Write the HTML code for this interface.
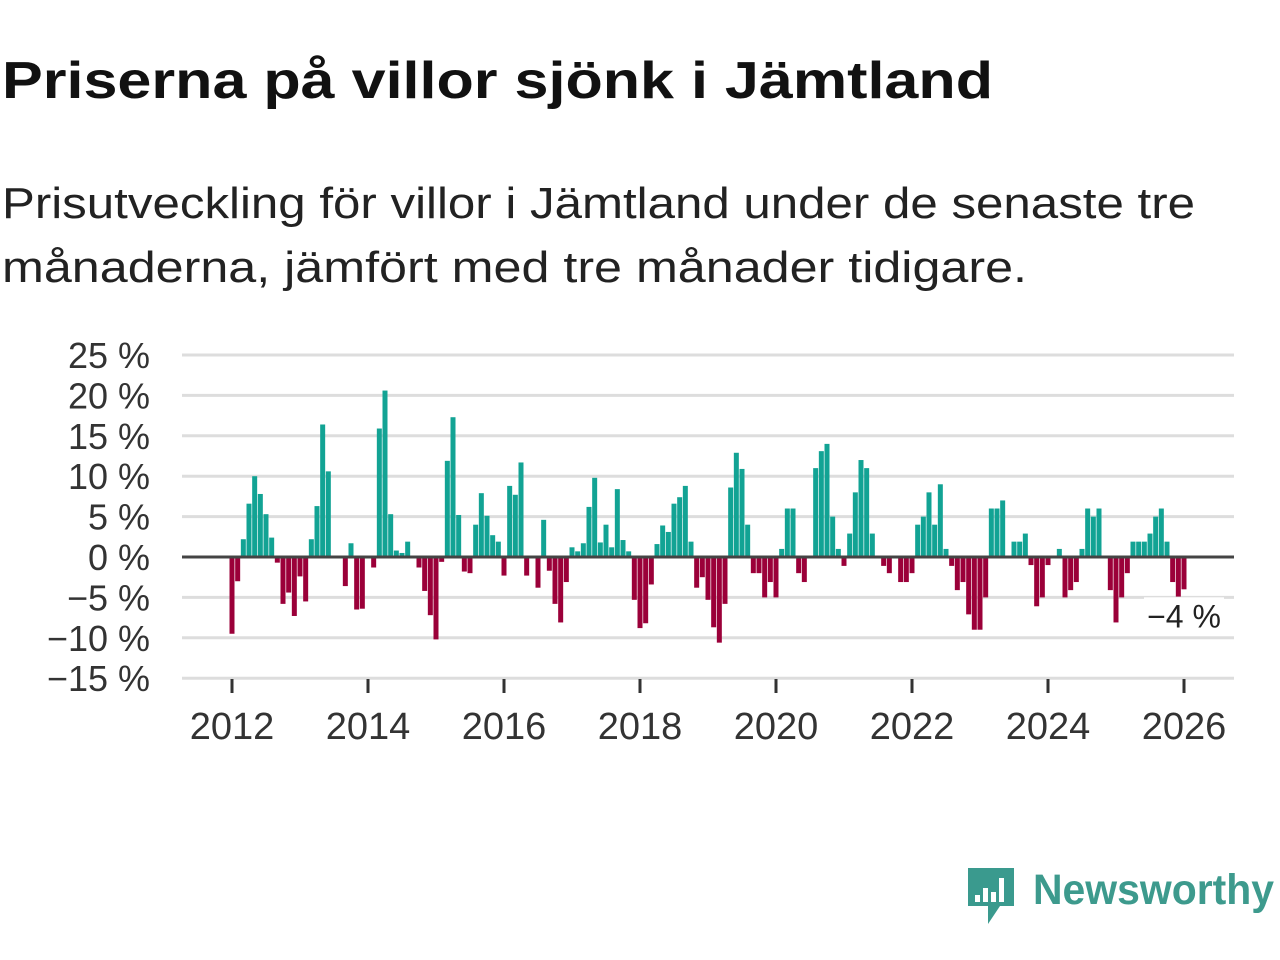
<!DOCTYPE html>
<html><head><meta charset="utf-8"><style>
html,body{margin:0;padding:0;background:#fff;}
svg{display:block;font-family:"Liberation Sans",sans-serif;}
</style></head><body>
<svg id="chart" width="1280" height="960" viewBox="0 0 1280 960">
<text x="2" y="98" font-size="52" font-weight="bold" fill="#111" textLength="991" lengthAdjust="spacingAndGlyphs">Priserna på villor sjönk i Jämtland</text>
<text x="2" y="218" font-size="44" fill="#222" textLength="1193" lengthAdjust="spacingAndGlyphs">Prisutveckling för villor i Jämtland under de senaste tre</text>
<text x="2" y="282" font-size="44" fill="#222" textLength="1025" lengthAdjust="spacingAndGlyphs">månaderna, jämfört med tre månader tidigare.</text>
<g id="grid"></g>
<g id="yaxis"></g>
<g id="xaxis"></g>
<g id="bars"></g>
<line id="zero" stroke="#444" stroke-width="3"></line>
<g id="label"></g>
<g>
<path d="M968 868 H1014 V906 H1000 L988 924 L988 906 H968 Z" fill="#3a9a8e"/>
<rect x="975" y="895" width="5" height="7" fill="#fff"/><rect x="983" y="888" width="5" height="14" fill="#fff"/><rect x="991" y="892" width="5" height="10" fill="#fff"/><rect x="999" y="878" width="5" height="24" fill="#fff"/>
<text x="1033" y="904" font-size="43" font-weight="bold" fill="#3d9a8d" textLength="241" lengthAdjust="spacingAndGlyphs">Newsworthy</text>
</g>
</svg>
<script>
const startYear = 2012;
const values = [
-9.5,-3,2.2,6.6,10,7.8,5.3,2.4,-0.7,-5.8,-4.4,-7.3,
-2.4,-5.5,2.2,6.3,16.4,10.6,0,0,-3.6,1.7,-6.5,-6.4,
0,-1.3,15.9,20.6,5.3,0.8,0.5,1.9,0,-1.3,-4.2,-7.2,
-10.2,-0.6,11.9,17.3,5.2,-1.8,-2.0,4.0,7.9,5.1,2.7,1.9,
-2.3,8.8,7.7,11.7,-2.3,0,-3.8,4.6,-1.7,-5.8,-8.1,-3.1,
1.2,0.7,1.7,6.2,9.8,1.8,4.0,1.2,8.4,2.1,0.7,-5.3,
-8.8,-8.2,-3.4,1.6,3.9,3.1,6.6,7.4,8.8,1.9,-3.8,-2.5,
-5.3,-8.7,-10.6,-5.8,8.6,12.9,10.9,4.0,-2.0,-2.0,-5.0,-3.1,
-5.0,1.0,6.0,6.0,-2.0,-3.1,0,11.0,13.1,14.0,5.0,1.0,
-1.1,2.9,8.0,12.0,11.0,2.9,0,-1.1,-2.0,0,-3.1,-3.1,
-2.0,4.0,5.0,8.0,4.0,9.0,1.0,-1.1,-4.1,-3.1,-7.1,-9.0,
-9.0,-5.0,6.0,6.0,7.0,0,1.9,1.9,2.9,-1.0,-6.1,-5.0,
-1.0,0,1.0,-5.0,-4.1,-3.1,1.0,6.0,5.0,6.0,0,-4.1,
-8.1,-5.0,-2.0,1.9,1.9,1.9,2.9,5.0,6.0,1.9,-3.1,-4.9,
-4.0];
const yTicks = [25,20,15,10,5,0,-5,-10,-15];
const xTickYears = [2012,2014,2016,2018,2020,2022,2024,2026];
const lastLabel = "\u22124 %";

const NS = "http://www.w3.org/2000/svg";
const x0 = 232, pxPerMonth = 68/12;
const y = v => 557 - (v * 202 / 25);
const xMonth = i => x0 + i * pxPerMonth;
const xYear = yr => x0 + (yr - startYear) * 12 * pxPerMonth;
function mk(tag, attrs, parent){const e=document.createElementNS(NS,tag);for(const k in attrs)e.setAttribute(k,attrs[k]);parent.appendChild(e);return e;}
const grid=document.getElementById('grid'), yaxis=document.getElementById('yaxis'), xaxis=document.getElementById('xaxis'), bars=document.getElementById('bars');
yTicks.forEach(t=>{
  if(t!==0){const l=mk('line',{x1:182,x2:1234,y1:y(t),y2:y(t),stroke:'#ddd','stroke-width':3},grid);
  
  }
  const tx=mk('text',{x:150,y:y(t)+13,'font-size':36,'text-anchor':'end',fill:'#333'},yaxis);
  tx.textContent=(t<0?'\u2212'+(-t):t)+' %';
  
  
});
xTickYears.forEach(yr=>{
  const l=mk('line',{x1:xYear(yr),x2:xYear(yr),y1:679,y2:693,stroke:'#333','stroke-width':3},xaxis);
  
  
  const tx=mk('text',{x:xYear(yr),y:739,'font-size':38,'text-anchor':'middle',fill:'#333'},xaxis);
  tx.textContent=yr;
  
  
});
values.forEach((v,i)=>{
  if(v===0)return;
  const top=Math.min(y(v),y(0)), h=Math.abs(y(v)-y(0));
  const r=mk('rect',{x:xMonth(i)-2.5,y:top,width:5,height:h,fill:v>0?'#12a394':'#9b0039'},bars);
  
  
});
const z=document.getElementById('zero');
z.setAttribute('x1',182);z.setAttribute('x2',1234);z.setAttribute('y1',y(0));z.setAttribute('y2',y(0));
const lg=document.getElementById('label');
const li=values.length-1;
mk('rect',{x:xMonth(li)-40,y:y(values[li])+8,width:80,height:38,fill:'#fff'},lg);
const lt=mk('text',{x:xMonth(li),y:y(values[li])+38,'font-size':32,'text-anchor':'middle',fill:'#222'},lg);
lt.textContent=lastLabel;


</script>
</body></html>
